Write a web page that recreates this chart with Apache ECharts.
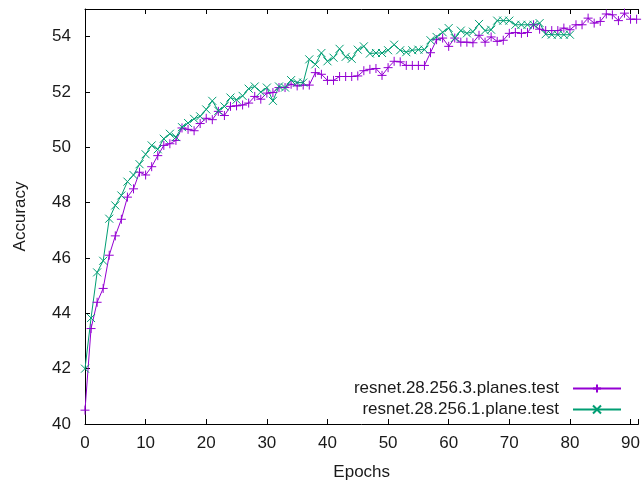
<!DOCTYPE html>
<html>
<head>
<meta charset="utf-8">
<script src="https://cdn.jsdelivr.net/npm/echarts@6/dist/echarts.min.js"></script>
<style>
  html, body { margin: 0; padding: 0; background: #fff; }
  #chart { width: 643px; height: 486px; }
</style>
</head>
<body>
<div id="chart"></div>
<script>
// accuracy per epoch (epoch = index)
var planes3 = [
    40.5, 43.45, 44.4, 44.9, 46.1, 46.8, 47.4, 48.2, 48.5, 49.1,
    49.0, 49.3, 49.7, 50.07, 50.13, 50.25, 50.7, 50.65, 50.6, 50.86,
    51.05, 51.0, 51.3, 51.15, 51.48, 51.5, 51.53, 51.6, 51.84, 51.74,
    51.96, 51.98, 52.16, 52.16, 52.28, 52.22, 52.25, 52.25, 52.7, 52.64,
    52.42, 52.42, 52.56, 52.56, 52.56, 52.58, 52.77, 52.82, 52.85, 52.6,
    52.88, 53.11, 53.09, 52.96, 52.96, 52.96, 52.96, 53.42, 53.89, 53.95,
    53.65, 53.95, 53.8, 53.8, 53.78, 54.05, 53.8, 53.99, 53.83, 53.87,
    54.12, 54.15, 54.12, 54.15, 54.43, 54.27, 54.22, 54.22, 54.22, 54.31,
    54.25, 54.43, 54.43, 54.67, 54.49, 54.55, 54.82, 54.79, 54.58, 54.85,
    54.63, 54.63
];
var plane1 = [
    42.0, 43.83, 45.48, 45.9, 47.42, 47.9, 48.26, 48.76, 49.0, 49.39,
    49.75, 50.07, 49.93, 50.31, 50.49, 50.37, 50.73, 50.88, 51.03, 51.12,
    51.37, 51.68, 51.32, 51.48, 51.8, 51.72, 51.86, 52.12, 52.2, 52.0,
    52.16, 51.68, 52.2, 52.16, 52.43, 52.34, 52.34, 53.18, 53.0, 53.41,
    53.11, 53.24, 53.56, 53.27, 53.2, 53.53, 53.65, 53.39, 53.41, 53.41,
    53.51, 53.71, 53.51, 53.44, 53.51, 53.53, 53.53, 53.87, 53.99, 54.16,
    54.31, 53.95, 54.22, 54.12, 54.18, 54.46, 54.22, 54.25, 54.58, 54.58,
    54.58, 54.43, 54.43, 54.43, 54.43, 54.49, 54.09, 54.07, 54.07, 54.07,
    54.07
];
var names = ['resnet.28.256.3.planes.test', 'resnet.28.256.1.plane.test'];
var colors = ['#9400d3', '#009e73'];

function pairs(arr) {
    return arr.map(function (v, i) { return [i, v]; });
}

var font = 'Liberation Sans, Arial, sans-serif';
var txt = '#1a1a1a';
var chart = echarts.init(document.getElementById('chart'));

var tickStyle = { show: true, inside: true, length: 5, lineStyle: { color: '#000', width: 1 } };
var lineAxis = { show: true, onZero: false, lineStyle: { color: '#000', width: 1 } };

var option = {
    animation: false,
    backgroundColor: '#fff',
    grid: { left: 85, right: 0, top: 9, bottom: 58 },
    legend: {
        orient: 'vertical',
        right: 16,
        bottom: 63,
        align: 'right',
        itemWidth: 48,
        itemHeight: 10,
        itemGap: 4,
        textStyle: { fontFamily: font, fontSize: 17, color: txt, padding: [0, 9, 0, 0] },
        data: names
    },
    xAxis: [{
        type: 'value',
        min: 0, max: 91.3, interval: 10,
        name: 'Epochs', nameLocation: 'middle', nameGap: 40,
        nameTextStyle: { fontFamily: font, fontSize: 17, color: txt },
        axisLine: lineAxis,
        axisTick: tickStyle,
        splitLine: { show: false },
        axisLabel: {
            fontFamily: font, fontSize: 17, color: txt, margin: 11,
            formatter: function (v) { return v % 10 === 0 ? v : ''; }
        }
    }, {
        type: 'value', position: 'top',
        min: 0, max: 91.3, interval: 10,
        axisLine: lineAxis,
        axisTick: tickStyle,
        axisLabel: { show: false },
        splitLine: { show: false }
    }],
    yAxis: [{
        type: 'value',
        min: 40, max: 55, interval: 2,
        name: 'Accuracy', nameLocation: 'middle', nameGap: 56,
        nameTextStyle: { fontFamily: font, fontSize: 17, color: txt },
        axisLine: lineAxis,
        axisTick: tickStyle,
        splitLine: { show: false },
        axisLabel: {
            fontFamily: font, fontSize: 17, color: txt, margin: 14,
            formatter: function (v) { return v % 2 === 0 ? v : ''; }
        }
    }],
    series: [{
        name: names[0],
        type: 'line',
        data: pairs(planes3),
        symbol: 'path://M0,5L10,5M5,0L5,10',
        symbolSize: 9,
        showAllSymbol: true,
        lineStyle: { color: colors[0], width: 1 },
        itemStyle: { color: colors[0], borderColor: colors[0], borderWidth: 1 }
    }, {
        name: names[1],
        type: 'line',
        data: pairs(plane1),
        symbol: 'path://M0,0L10,10M10,0L0,10',
        symbolSize: 8,
        showAllSymbol: true,
        lineStyle: { color: colors[1], width: 1 },
        itemStyle: { color: colors[1], borderColor: colors[1], borderWidth: 1 }
    }]
};
chart.setOption(option);
</script>
</body>
</html>
